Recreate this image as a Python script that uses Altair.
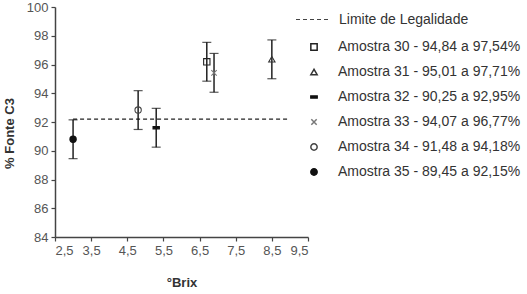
import altair as alt
import pandas as pd

amostras = [
    "Amostra 30 - 94,84 a 97,54%",
    "Amostra 31 - 95,01 a 97,71%",
    "Amostra 32 - 90,25 a 92,95%",
    "Amostra 33 - 94,07 a 96,77%",
    "Amostra 34 - 91,48 a 94,18%",
    "Amostra 35 - 89,45 a 92,15%",
]
brix = [6.7, 8.5, 5.3, 6.9, 4.8, 3.0]
c3 = [96.19, 96.36, 91.60, 95.42, 92.83, 90.80]
lo = [94.84, 95.01, 90.25, 94.07, 91.48, 89.45]
hi = [97.54, 97.71, 92.95, 96.77, 94.18, 92.15]

limite_label = ["Limite de Legalidade", "Limite de Legalidade"]
limite_x = [3.0, 9.0]
limite_y = [92.2, 92.2]

x_ticks = [2.5, 3.5, 4.5, 5.5, 6.5, 7.5, 8.5, 9.5]
y_ticks = [84, 86, 88, 90, 92, 94, 96, 98, 100]

shapes = [
    "square",
    "triangle-up",
    "M-1,-0.35H1V0.35H-1Z",
    "M-0.85,-0.85L0.85,0.85M0.85,-0.85L-0.85,0.85",
    "circle",
    "circle",
]
fills = ["transparent", "transparent", "#111111", "transparent", "transparent", "#111111"]
strokes = ["#222222", "#333333", "#111111", "#777777", "#444444", "#111111"]

df = pd.DataFrame({"amostra": amostras, "brix": brix, "c3": c3, "lo": lo, "hi": hi})
lim = pd.DataFrame({"serie": limite_label, "x": limite_x, "y": limite_y})

FONT = "Liberation Sans"

xscale = alt.Scale(domain=[2.5, 9.5], nice=False, zero=False)
yscale = alt.Scale(domain=[84, 100], nice=False, zero=False)

xaxis = alt.Axis(
    title="°Brix",
    values=x_ticks,
    labelExpr="replace(format(datum.value, '.1f'), '.', ',')",
    grid=False,
    labelOverlap=False,
)
yaxis = alt.Axis(
    title="% Fonte C3",
    values=y_ticks,
    grid=False,
    labelOverlap=False,
)


def X(field):
    return alt.X(field, type="quantitative", scale=xscale, axis=xaxis)


def Y(field):
    return alt.Y(field, type="quantitative", scale=yscale, axis=yaxis)


shape_legend = alt.Legend(
    title=None,
    orient="none",
    legendX=252,
    legendY=33,
    symbolSize=40,
    labelOffset=17,
    rowPadding=11,
    padding=0,
    labelLimit=400,
)

line = alt.Chart(lim).mark_line(color="#222222", strokeWidth=1.3).encode(
    x=X("x"),
    y=Y("y"),
    strokeDash=alt.StrokeDash(
        "serie:N",
        scale=alt.Scale(range=[[4, 3]]),
        legend=alt.Legend(
            title=None,
            orient="none",
            legendX=240,
            legendY=-6,
            symbolType="stroke",
            symbolSize=1225,
            symbolStrokeWidth=1.2,
            symbolStrokeColor="#444444",
            labelOffset=7,
            padding=0,
            labelLimit=400,
        ),
    ),
)

rules = alt.Chart(df).mark_rule(color="#111111", strokeWidth=1.4).encode(
    x=X("brix"), y=Y("lo"), y2="hi:Q"
)
caps_lo = alt.Chart(df).mark_tick(color="#111111", orient="horizontal", size=9, thickness=1.2).encode(
    x=X("brix"), y=Y("lo")
)
caps_hi = alt.Chart(df).mark_tick(color="#111111", orient="horizontal", size=9, thickness=1.2).encode(
    x=X("brix"), y=Y("hi")
)

points = alt.Chart(df).mark_point(size=40, strokeWidth=1.1, opacity=1, filled=False).encode(
    x=X("brix"),
    y=Y("c3"),
    shape=alt.Shape("amostra:N", scale=alt.Scale(domain=amostras, range=shapes), legend=shape_legend),
    fill=alt.Fill("amostra:N", scale=alt.Scale(domain=amostras, range=fills), legend=shape_legend),
    stroke=alt.Stroke("amostra:N", scale=alt.Scale(domain=amostras, range=strokes), legend=shape_legend),
)

chart = (
    alt.layer(line, rules, caps_lo, caps_hi, points)
    .properties(
        width=253,
        height=230,
        autosize=alt.AutoSizeParams(type="none"),
        padding={"left": 55, "top": 7, "right": 219, "bottom": 57},
        background="white",
    )
    .configure_view(stroke=None)
    .configure_axis(
        labelFont=FONT,
        labelFontSize=13,
        labelColor="#555555",
        titleFont=FONT,
        titleFontSize=13,
        titleFontWeight="bold",
        titleColor="#333333",
        domainColor="#444444",
        domainWidth=1.5,
        tickColor="#444444",
        tickWidth=1.2,
        tickSize=4,
        labelPadding=3,
        labelOverlap=False,
    )
    .configure_axisY(titlePadding=10, titleY=126)
    .configure_axisX(titlePadding=19)
    .configure_legend(
        labelFont=FONT,
        labelFontSize=14,
        labelColor="#333333",
    )
)

chart.save("out.html", embed_options={"renderer": "svg", "actions": False})
